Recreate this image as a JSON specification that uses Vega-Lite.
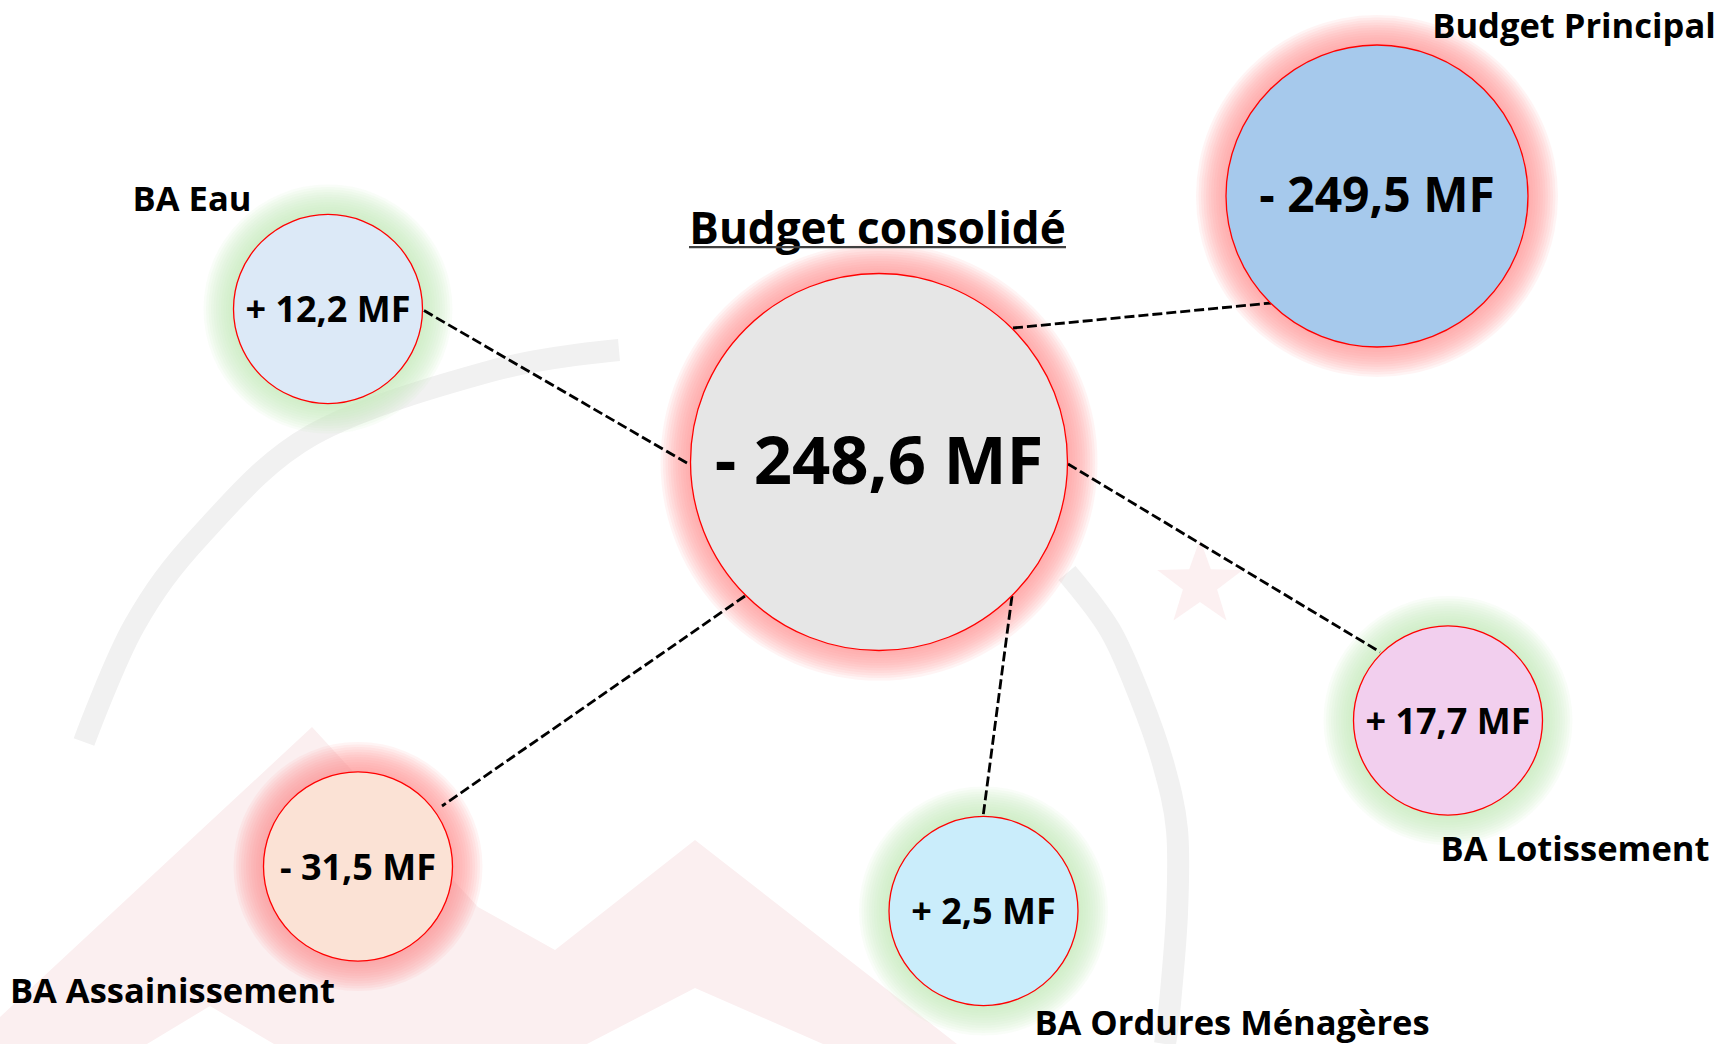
{
  "$schema": "https://vega.github.io/schema/vega-lite/v6.json",
  "width": 1734,
  "height": 1044,
  "autosize": {"type": "none"},
  "padding": 0,
  "background": "white",
  "config": {"view": {"stroke": null}, "legend": {"disable": true}},
  "datasets": {
    "noeuds": [
      {"nom": "Budget consolidé", "niveau": "consolidé", "signe": "négatif", "valeur": -248.6, "resultat": "- 248,6 MF", "cx": 87.9, "cy": 46.2},
      {"nom": "Budget Principal", "niveau": "principal", "signe": "négatif", "valeur": -249.5, "resultat": "- 249,5 MF", "cx": 137.7, "cy": 19.6},
      {"nom": "BA Eau", "niveau": "annexe", "signe": "positif", "valeur": 12.2, "resultat": "+ 12,2 MF", "cx": 32.8, "cy": 30.9},
      {"nom": "BA Lotissement", "niveau": "annexe", "signe": "positif", "valeur": 17.7, "resultat": "+ 17,7 MF", "cx": 144.8, "cy": 72.05},
      {"nom": "BA Ordures Ménagères", "niveau": "annexe", "signe": "positif", "valeur": 2.5, "resultat": "+ 2,5 MF", "cx": 98.35, "cy": 91.1},
      {"nom": "BA Assainissement", "niveau": "annexe", "signe": "négatif", "valeur": -31.5, "resultat": "- 31,5 MF", "cx": 35.8, "cy": 86.65}
    ],
    "etiquettes": [
      {"nom": "Budget Principal", "lx": 157.4, "ly": 3.75},
      {"nom": "BA Eau", "lx": 19.2, "ly": 21.1},
      {"nom": "BA Lotissement", "lx": 157.5, "ly": 86.1},
      {"nom": "BA Ordures Ménagères", "lx": 123.2, "ly": 103.5},
      {"nom": "BA Assainissement", "lx": 17.25, "ly": 100.3}
    ],
    "titre": [
      {"texte": "Budget consolidé", "lx": 87.75, "ly": 24.4, "ux1": 68.9, "ux2": 106.6, "uy": 24.72}
    ],
    "liens": [
      {"vers": "Budget Principal", "ax": 101.3, "ay": 32.8, "bx": 127.1, "by": 30.3},
      {"vers": "BA Eau", "ax": 68.7, "ay": 46.3, "bx": 42.3, "by": 31.0},
      {"vers": "BA Lotissement", "ax": 106.8, "ay": 46.4, "bx": 138.0, "by": 65.2},
      {"vers": "BA Ordures Ménagères", "ax": 101.2, "ay": 59.6, "bx": 98.3, "by": 81.7},
      {"vers": "BA Assainissement", "ax": 74.5, "ay": 59.6, "bx": 44.2, "by": 80.6}
    ],
    "montagne": [
      {"fx": 0, "fy": 101.7},
      {"fx": 31.2, "fy": 72.7},
      {"fx": 47.8, "fy": 90.7},
      {"fx": 55.5, "fy": 95.0},
      {"fx": 69.5, "fy": 84.0},
      {"fx": 95.7, "fy": 104.4}
    ],
    "creux": [
      {"creux": "a", "fx": 14.7, "fy": 104.4},
      {"creux": "a", "fx": 21.0, "fy": 100.6},
      {"creux": "a", "fx": 27.4, "fy": 104.4},
      {"creux": "b", "fx": 58.7, "fy": 104.4},
      {"creux": "b", "fx": 69.5, "fy": 98.8},
      {"creux": "b", "fx": 82.3, "fy": 104.4}
    ],
    "etoile": [
      {"fx": 120.0, "fy": 58.4}
    ],
    "arcs": [
      {"arc": "gauche", "ordre": 1, "fx": 8.4, "fy": 74.2},
      {"arc": "gauche", "ordre": 2, "fx": 13.4, "fy": 62.6},
      {"arc": "gauche", "ordre": 3, "fx": 20.1, "fy": 53.5},
      {"arc": "gauche", "ordre": 4, "fx": 31.2, "fy": 43.5},
      {"arc": "gauche", "ordre": 5, "fx": 49.1, "fy": 37.1},
      {"arc": "gauche", "ordre": 6, "fx": 61.9, "fy": 35.0},
      {"arc": "droite", "ordre": 1, "fx": 106.7, "fy": 57.3},
      {"arc": "droite", "ordre": 2, "fx": 111.0, "fy": 63.0},
      {"arc": "droite", "ordre": 3, "fx": 114.0, "fy": 69.7},
      {"arc": "droite", "ordre": 4, "fx": 116.3, "fy": 76.3},
      {"arc": "droite", "ordre": 5, "fx": 117.7, "fy": 83.0},
      {"arc": "droite", "ordre": 6, "fx": 117.7, "fy": 91.3},
      {"arc": "droite", "ordre": 7, "fx": 117.0, "fy": 100.3},
      {"arc": "droite", "ordre": 8, "fx": 116.5, "fy": 104.4}
    ]
  },
  "layer": [
    {
      "data": {"name": "montagne"},
      "mark": {"type": "area", "color": "#fbeff0", "interpolate": "linear"},
      "encoding": {
        "x": {"field": "fx", "type": "quantitative", "scale": {"domain": [0, 173.4], "nice": false, "zero": false}, "axis": null},
        "y": {"field": "fy", "type": "quantitative", "scale": {"domain": [0, 104.4], "nice": false, "zero": false, "reverse": true}, "axis": null},
        "y2": {"datum": 104.4}
      }
    },
    {
      "data": {"name": "creux"},
      "mark": {"type": "area", "color": "#ffffff", "interpolate": "linear"},
      "encoding": {
        "x": {"field": "fx", "type": "quantitative", "scale": {"domain": [0, 173.4], "nice": false, "zero": false}, "axis": null},
        "y": {"field": "fy", "type": "quantitative", "scale": {"domain": [0, 104.4], "nice": false, "zero": false, "reverse": true}, "axis": null},
        "y2": {"datum": 104.4},
        "detail": {"field": "creux", "type": "nominal"}
      }
    },
    {
      "data": {"name": "etoile"},
      "mark": {"type": "point", "filled": true, "shape": "M0,-1L0.24,-0.33L0.95,-0.31L0.38,0.12L0.59,0.81L0,0.4L-0.59,0.81L-0.38,0.12L-0.95,-0.31L-0.24,-0.33Z", "size": 8100, "color": "#fcf0f1", "opacity": 1, "strokeWidth": 0},
      "encoding": {
        "x": {"field": "fx", "type": "quantitative", "scale": {"domain": [0, 173.4], "nice": false, "zero": false}, "axis": null},
        "y": {"field": "fy", "type": "quantitative", "scale": {"domain": [0, 104.4], "nice": false, "zero": false, "reverse": true}, "axis": null}
      }
    },
    {
      "data": {"name": "arcs"},
      "mark": {"type": "line", "color": "#f1f1f1", "strokeWidth": 22, "interpolate": "cardinal"},
      "encoding": {
        "x": {"field": "fx", "type": "quantitative", "scale": {"domain": [0, 173.4], "nice": false, "zero": false}, "axis": null},
        "y": {"field": "fy", "type": "quantitative", "scale": {"domain": [0, 104.4], "nice": false, "zero": false, "reverse": true}, "axis": null},
        "detail": {"field": "arc", "type": "nominal"},
        "order": {"field": "ordre", "type": "quantitative"}
      }
    },
    {"data": {"name": "noeuds"}, "mark": {"type": "point", "shape": "circle", "filled": true, "opacity": 0.1, "strokeWidth": 0},
      "encoding": {"x": {"field": "cx", "type": "quantitative", "scale": {"domain": [0, 173.4], "nice": false, "zero": false}, "axis": null}, "y": {"field": "cy", "type": "quantitative", "scale": {"domain": [0, 104.4], "nice": false, "zero": false, "reverse": true}, "axis": null},
        "size": {"field": "niveau", "type": "nominal", "scale": {"type": "ordinal", "domain": ["consolidé", "principal", "annexe"], "range": [190969, 131044, 62001]}},
        "color": {"field": "signe", "type": "nominal", "scale": {"domain": ["négatif", "positif"], "range": ["#ff8f8f", "#c8e8bc"]}}}},
    {"data": {"name": "noeuds"}, "mark": {"type": "point", "shape": "circle", "filled": true, "opacity": 0.1, "strokeWidth": 0},
      "encoding": {"x": {"field": "cx", "type": "quantitative", "scale": {"domain": [0, 173.4], "nice": false, "zero": false}, "axis": null}, "y": {"field": "cy", "type": "quantitative", "scale": {"domain": [0, 104.4], "nice": false, "zero": false, "reverse": true}, "axis": null},
        "size": {"field": "niveau", "type": "nominal", "scale": {"type": "ordinal", "domain": ["consolidé", "principal", "annexe"], "range": [186624, 127449, 59536]}},
        "color": {"field": "signe", "type": "nominal", "scale": {"domain": ["négatif", "positif"], "range": ["#ff8f8f", "#c8e8bc"]}}}},
    {"data": {"name": "noeuds"}, "mark": {"type": "point", "shape": "circle", "filled": true, "opacity": 0.1, "strokeWidth": 0},
      "encoding": {"x": {"field": "cx", "type": "quantitative", "scale": {"domain": [0, 173.4], "nice": false, "zero": false}, "axis": null}, "y": {"field": "cy", "type": "quantitative", "scale": {"domain": [0, 104.4], "nice": false, "zero": false, "reverse": true}, "axis": null},
        "size": {"field": "niveau", "type": "nominal", "scale": {"type": "ordinal", "domain": ["consolidé", "principal", "annexe"], "range": [182329, 123904, 57121]}},
        "color": {"field": "signe", "type": "nominal", "scale": {"domain": ["négatif", "positif"], "range": ["#ff8f8f", "#c8e8bc"]}}}},
    {"data": {"name": "noeuds"}, "mark": {"type": "point", "shape": "circle", "filled": true, "opacity": 0.1, "strokeWidth": 0},
      "encoding": {"x": {"field": "cx", "type": "quantitative", "scale": {"domain": [0, 173.4], "nice": false, "zero": false}, "axis": null}, "y": {"field": "cy", "type": "quantitative", "scale": {"domain": [0, 104.4], "nice": false, "zero": false, "reverse": true}, "axis": null},
        "size": {"field": "niveau", "type": "nominal", "scale": {"type": "ordinal", "domain": ["consolidé", "principal", "annexe"], "range": [178084, 120409, 54756]}},
        "color": {"field": "signe", "type": "nominal", "scale": {"domain": ["négatif", "positif"], "range": ["#ff8f8f", "#c8e8bc"]}}}},
    {"data": {"name": "noeuds"}, "mark": {"type": "point", "shape": "circle", "filled": true, "opacity": 0.1, "strokeWidth": 0},
      "encoding": {"x": {"field": "cx", "type": "quantitative", "scale": {"domain": [0, 173.4], "nice": false, "zero": false}, "axis": null}, "y": {"field": "cy", "type": "quantitative", "scale": {"domain": [0, 104.4], "nice": false, "zero": false, "reverse": true}, "axis": null},
        "size": {"field": "niveau", "type": "nominal", "scale": {"type": "ordinal", "domain": ["consolidé", "principal", "annexe"], "range": [173889, 116964, 52441]}},
        "color": {"field": "signe", "type": "nominal", "scale": {"domain": ["négatif", "positif"], "range": ["#ff8f8f", "#c8e8bc"]}}}},
    {"data": {"name": "noeuds"}, "mark": {"type": "point", "shape": "circle", "filled": true, "opacity": 0.1, "strokeWidth": 0},
      "encoding": {"x": {"field": "cx", "type": "quantitative", "scale": {"domain": [0, 173.4], "nice": false, "zero": false}, "axis": null}, "y": {"field": "cy", "type": "quantitative", "scale": {"domain": [0, 104.4], "nice": false, "zero": false, "reverse": true}, "axis": null},
        "size": {"field": "niveau", "type": "nominal", "scale": {"type": "ordinal", "domain": ["consolidé", "principal", "annexe"], "range": [169744, 113569, 50176]}},
        "color": {"field": "signe", "type": "nominal", "scale": {"domain": ["négatif", "positif"], "range": ["#ff8f8f", "#c8e8bc"]}}}},
    {"data": {"name": "noeuds"}, "mark": {"type": "point", "shape": "circle", "filled": true, "opacity": 0.1, "strokeWidth": 0},
      "encoding": {"x": {"field": "cx", "type": "quantitative", "scale": {"domain": [0, 173.4], "nice": false, "zero": false}, "axis": null}, "y": {"field": "cy", "type": "quantitative", "scale": {"domain": [0, 104.4], "nice": false, "zero": false, "reverse": true}, "axis": null},
        "size": {"field": "niveau", "type": "nominal", "scale": {"type": "ordinal", "domain": ["consolidé", "principal", "annexe"], "range": [165649, 110224, 47961]}},
        "color": {"field": "signe", "type": "nominal", "scale": {"domain": ["négatif", "positif"], "range": ["#ff8f8f", "#c8e8bc"]}}}},
    {"data": {"name": "noeuds"}, "mark": {"type": "point", "shape": "circle", "filled": true, "opacity": 0.1, "strokeWidth": 0},
      "encoding": {"x": {"field": "cx", "type": "quantitative", "scale": {"domain": [0, 173.4], "nice": false, "zero": false}, "axis": null}, "y": {"field": "cy", "type": "quantitative", "scale": {"domain": [0, 104.4], "nice": false, "zero": false, "reverse": true}, "axis": null},
        "size": {"field": "niveau", "type": "nominal", "scale": {"type": "ordinal", "domain": ["consolidé", "principal", "annexe"], "range": [161604, 106929, 45796]}},
        "color": {"field": "signe", "type": "nominal", "scale": {"domain": ["négatif", "positif"], "range": ["#ff8f8f", "#c8e8bc"]}}}},
    {"data": {"name": "noeuds"}, "mark": {"type": "point", "shape": "circle", "filled": true, "opacity": 0.1, "strokeWidth": 0},
      "encoding": {"x": {"field": "cx", "type": "quantitative", "scale": {"domain": [0, 173.4], "nice": false, "zero": false}, "axis": null}, "y": {"field": "cy", "type": "quantitative", "scale": {"domain": [0, 104.4], "nice": false, "zero": false, "reverse": true}, "axis": null},
        "size": {"field": "niveau", "type": "nominal", "scale": {"type": "ordinal", "domain": ["consolidé", "principal", "annexe"], "range": [157609, 103684, 43681]}},
        "color": {"field": "signe", "type": "nominal", "scale": {"domain": ["négatif", "positif"], "range": ["#ff8f8f", "#c8e8bc"]}}}},
    {"data": {"name": "noeuds"}, "mark": {"type": "point", "shape": "circle", "filled": true, "opacity": 0.1, "strokeWidth": 0},
      "encoding": {"x": {"field": "cx", "type": "quantitative", "scale": {"domain": [0, 173.4], "nice": false, "zero": false}, "axis": null}, "y": {"field": "cy", "type": "quantitative", "scale": {"domain": [0, 104.4], "nice": false, "zero": false, "reverse": true}, "axis": null},
        "size": {"field": "niveau", "type": "nominal", "scale": {"type": "ordinal", "domain": ["consolidé", "principal", "annexe"], "range": [153664, 100489, 41616]}},
        "color": {"field": "signe", "type": "nominal", "scale": {"domain": ["négatif", "positif"], "range": ["#ff8f8f", "#c8e8bc"]}}}},
    {"data": {"name": "noeuds"}, "mark": {"type": "point", "shape": "circle", "filled": true, "opacity": 0.1, "strokeWidth": 0},
      "encoding": {"x": {"field": "cx", "type": "quantitative", "scale": {"domain": [0, 173.4], "nice": false, "zero": false}, "axis": null}, "y": {"field": "cy", "type": "quantitative", "scale": {"domain": [0, 104.4], "nice": false, "zero": false, "reverse": true}, "axis": null},
        "size": {"field": "niveau", "type": "nominal", "scale": {"type": "ordinal", "domain": ["consolidé", "principal", "annexe"], "range": [149769, 97344, 39601]}},
        "color": {"field": "signe", "type": "nominal", "scale": {"domain": ["négatif", "positif"], "range": ["#ff8f8f", "#c8e8bc"]}}}},
    {"data": {"name": "noeuds"}, "mark": {"type": "point", "shape": "circle", "filled": true, "opacity": 0.1, "strokeWidth": 0},
      "encoding": {"x": {"field": "cx", "type": "quantitative", "scale": {"domain": [0, 173.4], "nice": false, "zero": false}, "axis": null}, "y": {"field": "cy", "type": "quantitative", "scale": {"domain": [0, 104.4], "nice": false, "zero": false, "reverse": true}, "axis": null},
        "size": {"field": "niveau", "type": "nominal", "scale": {"type": "ordinal", "domain": ["consolidé", "principal", "annexe"], "range": [145924, 94249, 37636]}},
        "color": {"field": "signe", "type": "nominal", "scale": {"domain": ["négatif", "positif"], "range": ["#ff8f8f", "#c8e8bc"]}}}},
    {
      "data": {"name": "liens"},
      "mark": {"type": "rule", "color": "#000000", "strokeWidth": 2.8, "strokeDash": [10, 4]},
      "encoding": {
        "x": {"field": "ax", "type": "quantitative", "scale": {"domain": [0, 173.4], "nice": false, "zero": false}, "axis": null},
        "y": {"field": "ay", "type": "quantitative", "scale": {"domain": [0, 104.4], "nice": false, "zero": false, "reverse": true}, "axis": null},
        "x2": {"field": "bx"},
        "y2": {"field": "by"}
      }
    },
    {
      "data": {"name": "noeuds"},
      "mark": {"type": "point", "shape": "circle", "filled": true, "opacity": 1, "stroke": "#ff0000", "strokeWidth": 1.3},
      "encoding": {
        "x": {"field": "cx", "type": "quantitative", "scale": {"domain": [0, 173.4], "nice": false, "zero": false}, "axis": null},
        "y": {"field": "cy", "type": "quantitative", "scale": {"domain": [0, 104.4], "nice": false, "zero": false, "reverse": true}, "axis": null},
        "size": {"field": "niveau", "type": "nominal", "scale": {"type": "ordinal", "domain": ["consolidé", "principal", "annexe"], "range": [142129, 91204, 35721]}},
        "fill": {"field": "nom", "type": "nominal", "scale": {"domain": ["Budget consolidé", "Budget Principal", "BA Eau", "BA Lotissement", "BA Ordures Ménagères", "BA Assainissement"], "range": ["#e6e6e6", "#a6c9ec", "#dce9f7", "#f2cfee", "#caedfb", "#fbe2d5"]}}
      }
    },
    {
      "data": {"name": "noeuds"},
      "mark": {"type": "text", "font": "Open Sans", "fontWeight": "bold", "color": "#000000", "align": "center", "baseline": "middle", "dy": 2},
      "encoding": {
        "x": {"field": "cx", "type": "quantitative", "scale": {"domain": [0, 173.4], "nice": false, "zero": false}, "axis": null},
        "y": {"field": "cy", "type": "quantitative", "scale": {"domain": [0, 104.4], "nice": false, "zero": false, "reverse": true}, "axis": null},
        "text": {"field": "resultat", "type": "nominal"},
        "size": {"field": "niveau", "type": "nominal", "scale": {"type": "ordinal", "domain": ["consolidé", "principal", "annexe"], "range": [67, 48, 36]}}
      }
    },
    {
      "data": {"name": "etiquettes"},
      "mark": {"type": "text", "font": "Open Sans", "fontWeight": "bold", "fontSize": 34.5, "color": "#000000", "align": "center", "baseline": "alphabetic"},
      "encoding": {
        "x": {"field": "lx", "type": "quantitative", "scale": {"domain": [0, 173.4], "nice": false, "zero": false}, "axis": null},
        "y": {"field": "ly", "type": "quantitative", "scale": {"domain": [0, 104.4], "nice": false, "zero": false, "reverse": true}, "axis": null},
        "text": {"field": "nom", "type": "nominal"}
      }
    },
    {
      "data": {"name": "titre"},
      "mark": {"type": "text", "font": "Open Sans", "fontWeight": "bold", "fontSize": 44, "color": "#000000", "align": "center", "baseline": "alphabetic"},
      "encoding": {
        "x": {"field": "lx", "type": "quantitative", "scale": {"domain": [0, 173.4], "nice": false, "zero": false}, "axis": null},
        "y": {"field": "ly", "type": "quantitative", "scale": {"domain": [0, 104.4], "nice": false, "zero": false, "reverse": true}, "axis": null},
        "text": {"field": "texte", "type": "nominal"}
      }
    },
    {
      "data": {"name": "titre"},
      "mark": {"type": "rule", "color": "#404040", "strokeWidth": 2.2},
      "encoding": {
        "x": {"field": "ux1", "type": "quantitative", "scale": {"domain": [0, 173.4], "nice": false, "zero": false}, "axis": null},
        "x2": {"field": "ux2"},
        "y": {"field": "uy", "type": "quantitative", "scale": {"domain": [0, 104.4], "nice": false, "zero": false, "reverse": true}, "axis": null}
      }
    }
  ],
  "resolve": {"scale": {"size": "independent", "color": "independent", "fill": "independent"}}
}
